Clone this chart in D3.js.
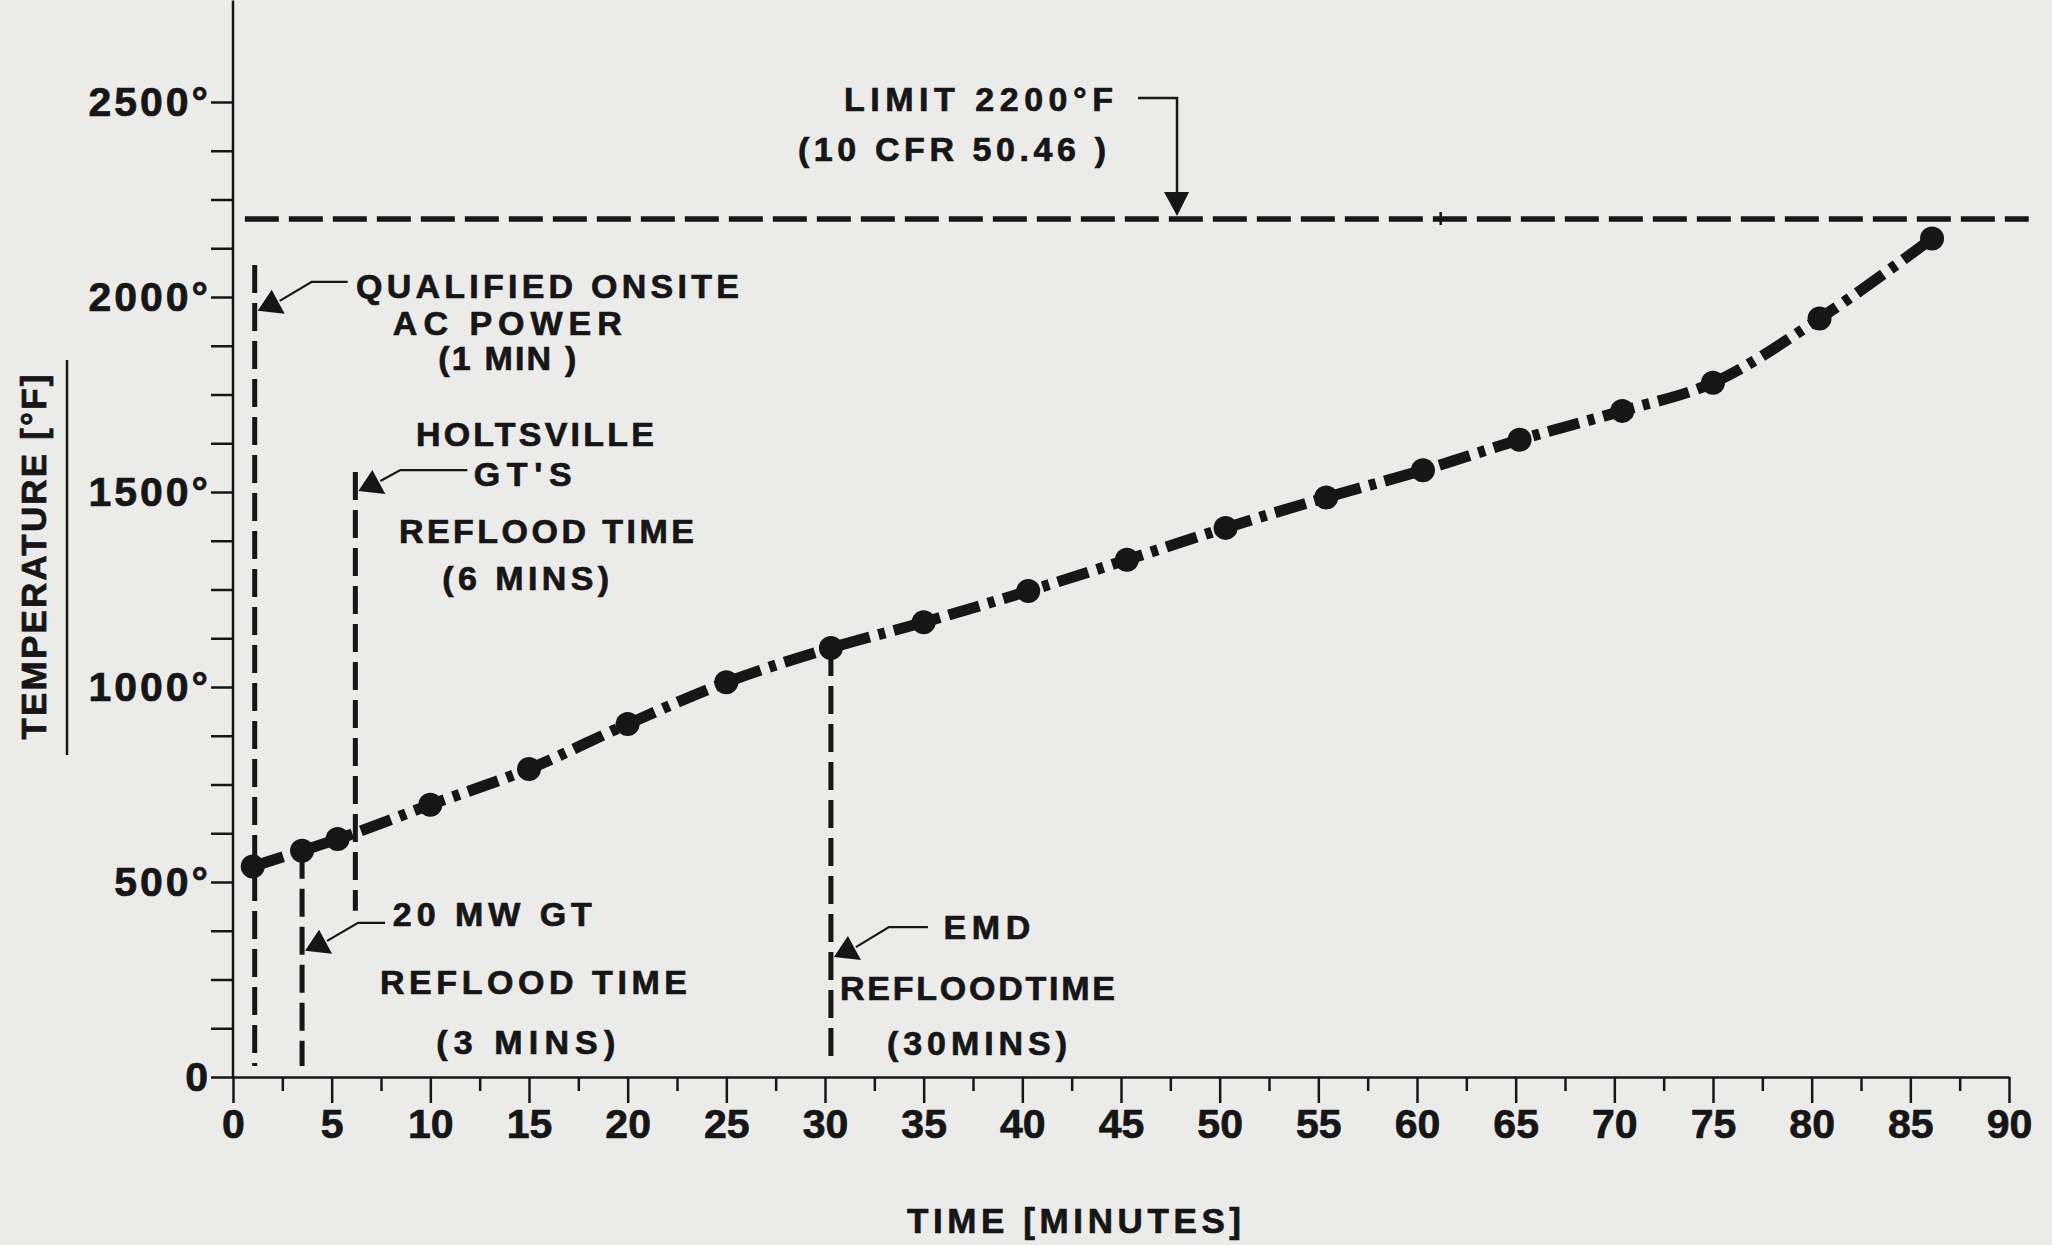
<!DOCTYPE html>
<html>
<head>
<meta charset="utf-8">
<script src="https://cdn.jsdelivr.net/npm/d3@7"></script>
<style>
  html, body { margin: 0; padding: 0; background: #ebebe9; }
  svg { display: block; font-family: "Liberation Sans", Arial, Helvetica, sans-serif; font-weight: bold; }
  svg text { stroke: #161616; stroke-width: 0.7px; }
</style>
</head>
<body>
<div id="vis"></div>
<script>
// cladding temperature vs time
const times = [1, 3.5, 5.3, 10, 15, 20, 25, 30.3, 35, 40.3, 45.3, 50.3, 55.4, 60.3, 65.2, 70.4, 75, 80.4, 86.1];
const temps = [540, 580, 610, 698, 790, 905, 1012, 1100, 1166, 1246, 1326, 1408, 1486, 1556, 1634, 1708, 1780, 1945, 2150];

const limitTemp = 2200;
const xTicks = d3.range(0, 91, 5);
const xMinorTicks = d3.range(2.5, 90, 5);
const yTicks = [0, 500, 1000, 1500, 2000, 2500];
const yMinorTicks = d3.range(0, 2501, 125);

// reflood markers (vertical dashed lines): time, top and bottom temperature
const markerTimes = [1.1, 3.5, 6.2, 30.3];
const markerTops = [2082, 580, 1551, 1100];
const markerBottoms = [28, 28, 426, 28];

const labelTexts = [
  "QUALIFIED ONSITE", "AC POWER", "(1 MIN )",
  "HOLTSVILLE", "GT'S", "REFLOOD TIME", "(6 MINS)",
  "20 MW GT", "REFLOOD TIME", "(3 MINS)",
  "EMD", "REFLOODTIME", "(30MINS)",
  "LIMIT 2200°F", "(10 CFR 50.46 )"
];

const W = 2052, H = 1245;
const svg = d3.select("#vis").append("svg")
  .attr("width", W)
  .attr("height", H);

const ink = "#161616";

const x = d3.scaleLinear().domain([0, 90]).range([233, 2009]);
const y = d3.scaleLinear().domain([0, 2500]).range([1077, 102]);

// x axis: minor ticks then labelled ticks
svg.append("g")
  .attr("transform", `translate(0,${y(0)})`)
  .call(d3.axisBottom(x).tickValues(xMinorTicks).tickSize(14).tickFormat(""))
  .call(g => g.select(".domain").remove());

const xAxis = svg.append("g")
  .attr("transform", `translate(0,${y(0)})`)
  .call(d3.axisBottom(x).tickValues(xTicks).tickSize(26).tickSizeOuter(0).tickPadding(6));
xAxis.selectAll("text")
  .attr("font-size", 41)
  .attr("font-family", "inherit")
  .attr("fill", ink);

// y axis
const yAxis = svg.append("g")
  .attr("transform", `translate(${x(0)},0)`)
  .call(d3.axisLeft(y).tickValues(yMinorTicks).tickSize(22).tickPadding(0)
    .tickFormat(d => yTicks.includes(d) ? (d ? d + "°" : "0") : ""));
yAxis.select(".domain").remove();
yAxis.selectAll("text")
  .attr("font-size", 41)
  .attr("font-family", "inherit")
  .attr("letter-spacing", 3)
  .attr("fill", ink);

svg.append("line")
  .attr("x1", x(0)).attr("x2", x(0))
  .attr("y1", y(0)).attr("y2", y(2760));

svg.selectAll(".tick line, .domain, svg > line")
  .attr("stroke", ink)
  .attr("stroke-width", 2.5);

// axis titles
svg.append("text")
  .attr("transform", `translate(46,${557}) rotate(-90)`)
  .attr("text-anchor", "middle")
  .attr("font-size", 35)
  .attr("fill", ink)
  .attr("textLength", 365)
  .attr("lengthAdjust", "spacing")
  .text("TEMPERATURE [°F]");
svg.append("line")
  .attr("x1", 67).attr("x2", 67)
  .attr("y1", 360).attr("y2", 755)
  .attr("stroke", ink).attr("stroke-width", 2.5);

svg.append("text")
  .attr("x", 907).attr("y", 1233)
  .attr("font-size", 35)
  .attr("fill", ink)
  .attr("textLength", 334)
  .attr("lengthAdjust", "spacing")
  .text("TIME [MINUTES]");

// 2200F limit
svg.append("line")
  .attr("x1", x(0.6)).attr("x2", x(91))
  .attr("y1", y(limitTemp)).attr("y2", y(limitTemp))
  .attr("stroke", ink)
  .attr("stroke-width", 5.5)
  .attr("stroke-dasharray", "34 10");
svg.append("line")
  .attr("x1", x(61.2)).attr("x2", x(61.2))
  .attr("y1", y(limitTemp) - 7).attr("y2", y(limitTemp) + 6)
  .attr("stroke", ink).attr("stroke-width", 2.5);

const limX = x(47.84), limY = y(limitTemp);
svg.append("path")
  .attr("d", `M${limX - 39},98H${limX}V${limY - 26}`)
  .attr("fill", "none").attr("stroke", ink).attr("stroke-width", 2.5);
svg.append("path")
  .attr("d", `M${limX - 13},${limY - 27}L${limX + 12},${limY - 27}L${limX},${limY - 3}Z`)
  .attr("fill", ink);

// vertical reflood markers
svg.selectAll(".marker")
  .data(markerTimes)
  .enter()
  .append("line")
  .attr("class", "marker")
  .attr("x1", d => x(d)).attr("x2", d => x(d))
  .attr("y1", (d, i) => y(markerTops[i]))
  .attr("y2", (d, i) => y(markerBottoms[i]))
  .attr("stroke", ink)
  .attr("stroke-width", 5)
  .attr("stroke-dasharray", "28 10");

// arrowheads + leaders pointing at the markers
const arrows = [
  { t: 1.1, temp: 1967, mid: [57, -28], end: 93 },
  { t: 6.2, temp: 1505, mid: [45, -20], end: 112 },
  { t: 3.5, temp: 326, mid: [56, -27], end: 83 },
  { t: 30.3, temp: 310, mid: [58, -29], end: 97 }
];
arrows.forEach(a => {
  const ax = x(a.t), ay = y(a.temp);
  const g = svg.append("g").attr("transform", `translate(${ax},${ay})`);
  g.append("path")
    .attr("d", "M3,1L17,-20L30,4Z")
    .attr("fill", ink);
  g.append("path")
    .attr("d", `M25,-9L${a.mid[0]},${a.mid[1]}H${a.end}`)
    .attr("fill", "none")
    .attr("stroke", ink)
    .attr("stroke-width", 2.2);
});

// labels: [time, temp of baseline, width]
const labelLayout = [
  [6.23, 1997, 383], [8.1, 1903, 229], [10.4, 1813, 138],
  [9.27, 1618, 238], [12.2, 1515, 98], [8.41, 1369, 295], [10.6, 1249, 167],
  [8.1, 387, 199], [7.45, 213, 307], [10.3, 59, 179],
  [36.0, 354, 87], [30.76, 197, 275], [33.14, 56, 180],
  [30.96, 2477, 269], [28.63, 2349, 308]
];
svg.selectAll(".label")
  .data(labelTexts)
  .enter()
  .append("text")
  .attr("class", "label")
  .attr("x", (d, i) => x(labelLayout[i][0]))
  .attr("y", (d, i) => y(labelLayout[i][1]))
  .attr("font-size", 34)
  .attr("fill", ink)
  .attr("textLength", (d, i) => labelLayout[i][2])
  .attr("lengthAdjust", "spacing")
  .text(d => d);

// the temperature curve
const pts = times.map((t, i) => [t, temps[i]]);
const line = d3.line()
  .x(d => x(d[0]))
  .y(d => y(d[1]))
  .curve(d3.curveMonotoneX);

svg.append("path")
  .datum(pts)
  .attr("d", line)
  .attr("fill", "none")
  .attr("stroke", ink)
  .attr("stroke-width", 11)
  .attr("stroke-dasharray", "32 9 7 9");

svg.selectAll(".pt")
  .data(pts)
  .enter()
  .append("circle")
  .attr("class", "pt")
  .attr("cx", d => x(d[0]))
  .attr("cy", d => y(d[1]))
  .attr("r", 12)
  .attr("fill", ink);
</script>
</body>
</html>
